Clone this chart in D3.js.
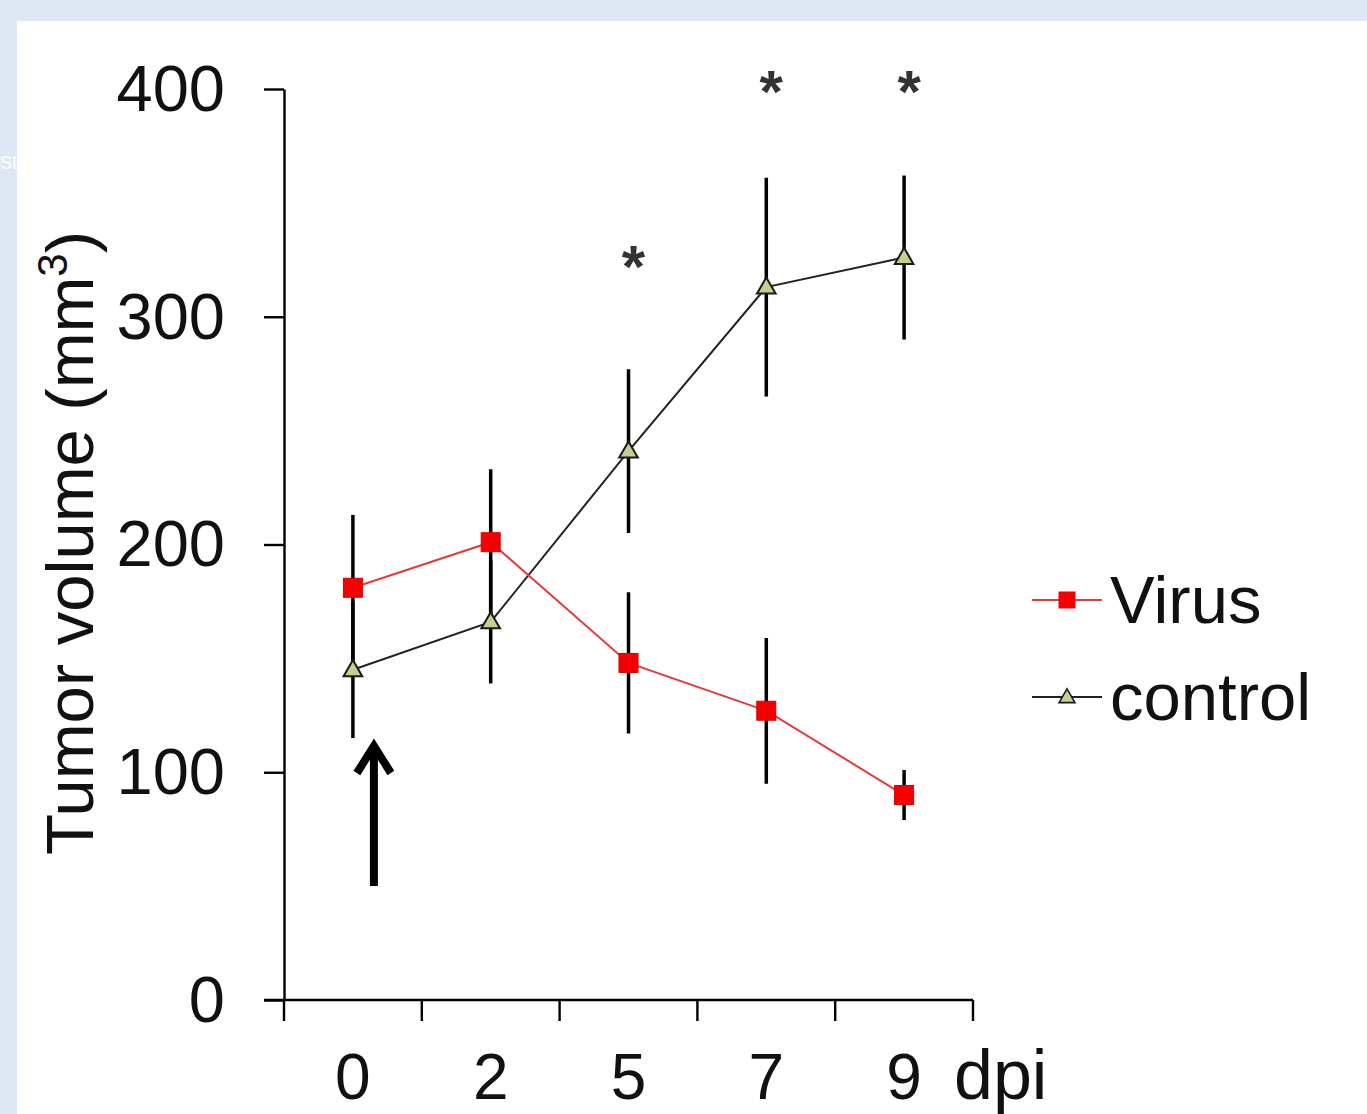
<!DOCTYPE html>
<html>
<head>
<meta charset="utf-8">
<script src="https://cdn.jsdelivr.net/npm/d3@7"></script>
<style>
  html, body { margin: 0; padding: 0; background: #dde8f4; }
  svg { display: block; }
  text { font-family: "Liberation Sans", Arial, sans-serif; }
</style>
</head>
<body>
<svg id="chart" width="1367" height="1114"></svg>
<script>
// ---- data ----
const days = ["0", "2", "5", "7", "9"];
const virusMean = [181, 201, 148, 127, 90];
const virusErr = [32, 32, 31, 32, 11];
const controlMean = [145, 166, 241, 313, 326];
const controlErr = [30, 27, 36, 48, 36];
const yTicks = [0, 100, 200, 300, 400];
const sigDays = ["5", "7", "9"];
const sigLevel = [328, 405, 405];
const seriesNames = ["Virus", "control"];

// ---- layout ----
const svg = d3.select("#chart");
svg.append("text").attr("x", 0).attr("y", 169).attr("fill", "#ffffff")
  .attr("font-family", "Open Sans").attr("font-size", 18).text("SL");
svg.append("rect").attr("x", 17).attr("y", 21).attr("width", 1367 - 17).attr("height", 1114 - 21)
  .attr("fill", "#ffffff");

const x = d3.scaleBand().domain(days).range([284, 973]).paddingInner(0).paddingOuter(0);
const y = d3.scaleLinear().domain([0, 400]).range([1000, 89]);
const cx = d => x(d) + x.bandwidth() / 2;

// y axis
const yAxis = svg.append("g").attr("transform", "translate(284,0)")
  .call(d3.axisLeft(y).tickValues(yTicks).tickSize(20).tickPadding(39).tickSizeOuter(0));
yAxis.select(".domain").attr("stroke", "#000").attr("stroke-width", 2.4);
yAxis.selectAll(".tick line").attr("stroke", "#000").attr("stroke-width", 2.4);
yAxis.selectAll(".tick text").attr("font-size", 65).attr("fill", "#111")
  .attr("font-family", "Liberation Sans, Arial, sans-serif").attr("dy", "0.33em");

// x axis (ticks at band edges)
const xg = svg.append("g");
xg.append("line").attr("x1", 264).attr("x2", x.range()[1]).attr("y1", y(0)).attr("y2", y(0))
  .attr("stroke", "#000").attr("stroke-width", 2.4);
const edges = days.map(d => x(d)).concat([x.range()[1]]);
xg.selectAll("line.tk").data(edges).join("line").attr("class", "tk")
  .attr("x1", d => d).attr("x2", d => d).attr("y1", y(0)).attr("y2", y(0) + 21)
  .attr("stroke", "#000").attr("stroke-width", 2.4);
xg.selectAll("text.xl").data(days).join("text").attr("class", "xl")
  .attr("x", d => cx(d)).attr("y", 1099).attr("text-anchor", "middle")
  .attr("font-size", 64).attr("fill", "#111").text(d => d);
xg.append("text").attr("x", 954).attr("y", 1099).attr("font-size", 70).attr("fill", "#111").text("dpi");

// y title
const yt = svg.append("text").attr("transform", "translate(93,543) rotate(-90)")
  .attr("text-anchor", "middle").attr("font-size", 67).attr("fill", "#111");
yt.append("tspan").text("Tumor volume (mm");
yt.append("tspan").attr("font-size", 42).attr("dy", -26).text("3");
yt.append("tspan").attr("dy", 26).text(")");

// series
const virus = days.map((d, i) => ({ d, v: virusMean[i], e: virusErr[i] }));
const control = days.map((d, i) => ({ d, v: controlMean[i], e: controlErr[i] }));

// error bars
[virus, control].forEach(s => {
  svg.append("g").selectAll("line").data(s).join("line")
    .attr("x1", p => cx(p.d)).attr("x2", p => cx(p.d))
    .attr("y1", p => y(p.v + p.e)).attr("y2", p => y(p.v - p.e))
    .attr("stroke", "#000").attr("stroke-width", 3.5);
});

const line = d3.line().x(p => cx(p.d)).y(p => y(p.v));
svg.append("path").datum(control).attr("d", line).attr("fill", "none")
  .attr("stroke", "#222").attr("stroke-width", 2);
svg.append("path").datum(virus).attr("d", line).attr("fill", "none")
  .attr("stroke", "#e53a3a").attr("stroke-width", 2);

const tri = d3.symbol().type(d3.symbolTriangle).size(150);
const triSmall = d3.symbol().type(d3.symbolTriangle).size(110);
svg.append("g").selectAll("path").data(control).join("path")
  .attr("d", tri).attr("transform", p => `translate(${cx(p.d)},${y(p.v) + 1})`)
  .attr("fill", "#c5cf8e").attr("stroke", "#1a1a1a").attr("stroke-width", 2);
svg.append("g").selectAll("rect").data(virus).join("rect")
  .attr("x", p => cx(p.d) - 9.5).attr("y", p => y(p.v) - 9.5).attr("width", 19).attr("height", 19)
  .attr("fill", "#f40000").attr("stroke", "#d80000").attr("stroke-width", 1);

// significance stars
svg.append("g").selectAll("text").data(sigDays.map((d, i) => ({ d, l: sigLevel[i] }))).join("text")
  .attr("x", p => cx(p.d) + 5).attr("y", p => y(p.l) + 34).attr("text-anchor", "middle")
  .attr("font-size", 60).attr("font-weight", "bold").attr("fill", "#333").text("*");

// arrow at injection
const ax = cx("0") + 21;
const arrow = svg.append("g").attr("stroke", "#000").attr("stroke-width", 8).attr("fill", "none");
arrow.append("line").attr("x1", ax).attr("x2", ax).attr("y1", 886).attr("y2", 748);
arrow.append("path").attr("d", `M${ax - 17},773 L${ax},746 L${ax + 17},773`).attr("stroke-linejoin", "miter");

// legend
const lg = svg.append("g");
const legY = [600, 697];
lg.append("line").attr("x1", 1032).attr("x2", 1102).attr("y1", legY[0]).attr("y2", legY[0])
  .attr("stroke", "#e53a3a").attr("stroke-width", 2.2);
lg.append("rect").attr("x", 1067 - 8.5).attr("y", legY[0] - 8.5).attr("width", 17).attr("height", 17)
  .attr("fill", "#f40000");
lg.append("line").attr("x1", 1032).attr("x2", 1102).attr("y1", legY[1]).attr("y2", legY[1])
  .attr("stroke", "#222").attr("stroke-width", 2.2);
lg.append("path").attr("d", triSmall).attr("transform", `translate(1067,${legY[1] + 1})`)
  .attr("fill", "#c5cf8e").attr("stroke", "#1a1a1a").attr("stroke-width", 1.6);
lg.selectAll("text").data(seriesNames).join("text")
  .attr("x", 1110).attr("y", (d, i) => legY[i] + 23).attr("font-size", 67).attr("fill", "#111")
  .text(d => d);
</script>
</body>
</html>
